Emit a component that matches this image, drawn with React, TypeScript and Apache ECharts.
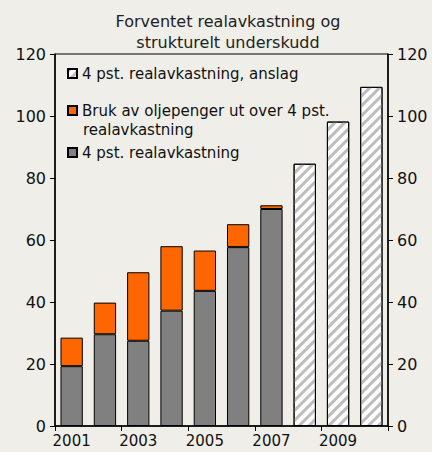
import React, { useEffect, useRef } from "react";
import * as echarts from "echarts";

const years = ["2001", "2002", "2003", "2004", "2005", "2006", "2007", "2008", "2009", "2010"];
const baseReturn = [19.3, 29.6, 27.5, 37.2, 43.6, 57.7, 70.0, null, null, null];
const extraUse = [9.2, 10.2, 22.1, 20.8, 13.0, 7.4, 1.2, null, null, null];
const forecast = [null, null, null, null, null, null, null, 84.6, 98.2, 109.4];

const nameForecast = "4 pst. realavkastning, anslag";
const nameExtra = "Bruk av oljepenger ut over 4 pst.";
const nameBase = "4 pst. realavkastning";

const FONT = "'DejaVu Sans', sans-serif";
const TXT = "#111";

export default function App() {
  const ref = useRef<HTMLDivElement>(null);
  useEffect(() => {
    const chart = echarts.init(ref.current!, null, { renderer: "svg" });
    const legendCommon = {
      orient: "vertical",
      itemWidth: 9,
      itemHeight: 9,
      icon: "rect",
      itemGap: 0,
      textStyle: { fontFamily: FONT, fontSize: 15, color: TXT },
      selectedMode: false,
    };
    chart.setOption({
      animation: false,
      backgroundColor: "#EFEEE8",
      title: {
        text: "Forventet realavkastning og\nstrukturelt underskudd",
        left: 223,
        textAlign: "center",
        top: 6,
        textStyle: { fontFamily: FONT, fontSize: 16, fontWeight: "normal", color: "#222", lineHeight: 21 },
      },
      grid: { left: 55, right: 44, top: 54, bottom: 26, show: true, borderColor: "#000", borderWidth: 1, backgroundColor: "transparent" },
      legend: [
        { ...legendCommon, data: [nameForecast], left: 62, top: 61 },
        { ...legendCommon, data: [nameExtra], left: 62, top: 98 },
        { ...legendCommon, data: [nameBase], left: 62, top: 140 },
      ],
      graphic: [
        { type: "text", left: 83, top: 122, style: { text: "realavkastning", font: `15px ${FONT}`, fill: TXT } },
      ],
      xAxis: {
        type: "category",
        data: years,
        boundaryGap: true,
        axisLine: { lineStyle: { color: "#000", width: 1.5 } },
        axisTick: { show: true, length: 5, inside: false, lineStyle: { color: "#000" } },
        axisLabel: { interval: 1, fontFamily: FONT, fontSize: 15, color: TXT, margin: 7 },
      },
      yAxis: [
        {
          type: "value",
          min: 0,
          max: 120,
          interval: 20,
          position: "left",
          axisLine: { show: true, lineStyle: { color: "#000", width: 1.5 } },
          axisTick: { show: true, length: 5, lineStyle: { color: "#000" } },
          axisLabel: { fontFamily: FONT, fontSize: 16, color: TXT, margin: 9 },
          splitLine: { show: false },
        },
        {
          type: "value",
          min: 0,
          max: 120,
          interval: 20,
          position: "right",
          axisLine: { show: true, lineStyle: { color: "#000", width: 1.5 } },
          axisTick: { show: true, length: 5, lineStyle: { color: "#000" } },
          axisLabel: { fontFamily: FONT, fontSize: 16, color: TXT, margin: 9 },
          splitLine: { show: false },
        },
      ],
      series: [
        {
          name: nameBase,
          type: "bar",
          stack: "a",
          data: baseReturn,
          barWidth: "67%",
          itemStyle: { color: "#808080", borderColor: "#000", borderWidth: 1 },
        },
        {
          name: nameExtra,
          type: "bar",
          stack: "a",
          data: extraUse,
          barWidth: "67%",
          itemStyle: { color: "#FF6600", borderColor: "#000", borderWidth: 1 },
        },
        {
          name: nameForecast,
          type: "bar",
          stack: "a",
          data: forecast,
          barWidth: "67%",
          itemStyle: {
            color: "#FFFFFF",
            borderColor: "#000",
            borderWidth: 1,
            decal: {
              symbol: "rect",
              symbolSize: 1,
              color: "#BDBDBD",
              backgroundColor: "#FFFFFF",
              dashArrayX: [1, 0],
              dashArrayY: [3, 4],
              rotation: -Math.PI / 4,
            },
          },
        },
      ],
    });
    return () => chart.dispose();
  }, []);
  return <div ref={ref} style={{ width: 432, height: 452, position: "absolute", left: 0, top: 0 }} />;
}
